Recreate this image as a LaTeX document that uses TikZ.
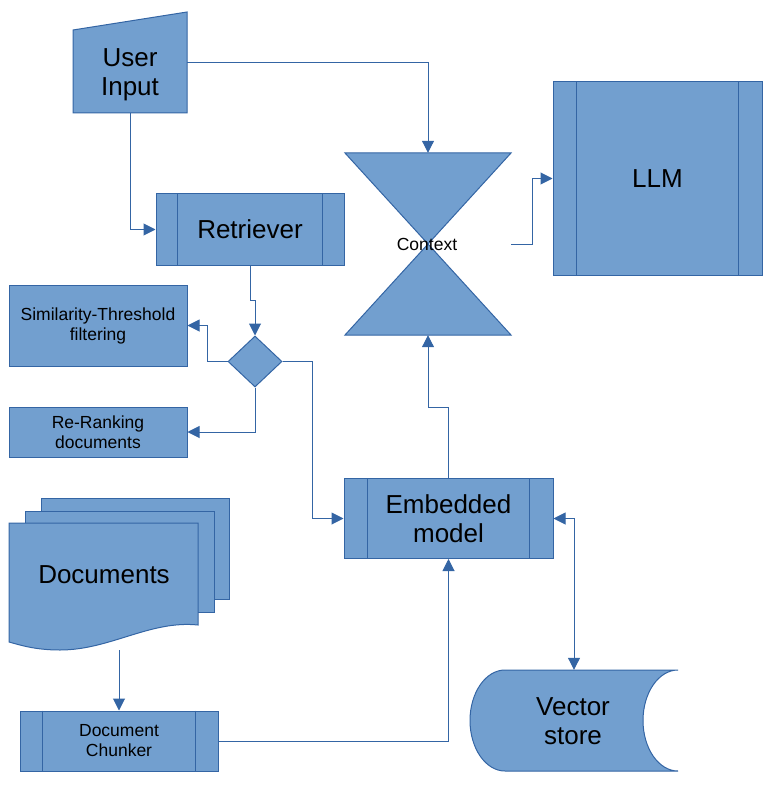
\documentclass[tikz,border=0pt]{standalone}
\usepackage{fontspec}
\setmainfont{Liberation Sans}
\usetikzlibrary{arrows.meta,shapes.geometric}
\definecolor{fillc}{HTML}{729FCF}
\definecolor{linec}{HTML}{3465A4}
\begin{document}
\begin{tikzpicture}[x=1pt,y=-1pt,
  shp/.style={draw=linec, fill=fillc, line width=1pt, line join=miter},
  bigtxt/.style={font=\fontsize{26}{29}\selectfont, align=center, text=black},
  smalltxt/.style={font=\fontsize{17.5}{20}\selectfont, align=center, text=black},
  boxnode/.style={shp, rectangle, inner sep=0pt},
  ghost/.style={rectangle, inner sep=0pt},
  bar/.style={draw=linec, line width=1pt},
  conn/.style={draw=linec, line width=1pt, -{Triangle[length=12pt,width=12pt]}},
  dconn/.style={draw=linec, line width=1pt, {Triangle[length=12pt,width=12pt]}-{Triangle[length=12pt,width=12pt]}}
]
\useasboundingbox (0,0) rectangle (777,794);

% User Input (manual input)
\path[shp] (73,30) -- (187,12) -- (187,113) -- (73,113) -- cycle;
\node[ghost, minimum width=114pt, minimum height=101pt] (ui) at (130,62.5) {};
\node[bigtxt] (uitxt) at (130,74.5) {User\\Input};

% Retriever
\node[boxnode, bigtxt, minimum width=188pt, minimum height=71pt] (ret) at (250,229.5) {Retriever};
\draw[bar] ([xshift=22pt]ret.north west) -- ([xshift=22pt]ret.south west);
\draw[bar] ([xshift=-22pt]ret.north east) -- ([xshift=-22pt]ret.south east);

% Context (hourglass)
\path[shp] (345,153) -- (511,153) -- (428,244) -- cycle;
\path[shp] (345,335) -- (511,335) -- (428,244) -- cycle;
\node[ghost, minimum width=166pt, minimum height=182pt] (ctx) at (428,244) {};
\node[smalltxt] (ctxtxt) at (427,244) {Context};

% LLM
\node[boxnode, bigtxt, minimum width=209pt, minimum height=193pt] (llm) at (657.5,178.5) {LLM};
\draw[bar] ([xshift=24pt]llm.north west) -- ([xshift=24pt]llm.south west);
\draw[bar] ([xshift=-24pt]llm.north east) -- ([xshift=-24pt]llm.south east);

% Decision diamond
\node[shp, diamond, inner sep=0pt, minimum width=54pt, minimum height=51pt] (dia) at (255,361.5) {};

% Similarity-Threshold filtering
\node[boxnode, smalltxt, minimum width=178pt, minimum height=81pt] (sim) at (98,325.5) {Similarity-Threshold\\filtering};

% Re-Ranking documents
\node[boxnode, smalltxt, minimum width=178pt, minimum height=50pt] (rr) at (98,432) {Re-Ranking\\documents};

% Embedded model
\node[boxnode, bigtxt, minimum width=209pt, minimum height=80pt] (emb) at (448.5,518.5) {Embedded\\model};
\draw[bar] ([xshift=24pt]emb.north west) -- ([xshift=24pt]emb.south west);
\draw[bar] ([xshift=-24pt]emb.north east) -- ([xshift=-24pt]emb.south east);

% Documents (multi-document)
\path[shp] (41,498) rectangle (229,599);
\path[shp] (25,511) rectangle (214,612);
\path[shp] (9,523) -- (198,523) -- (198,625)
  .. controls (150,620) and (110,650) .. (60,650)
  .. controls (35,650) and (20,645) .. (9,642) -- cycle;
\node[ghost, minimum width=189pt, minimum height=127pt] (docs) at (103.5,586.5) {};
\node[bigtxt] (docstxt) at (104,575) {Documents};

% Document Chunker
\node[boxnode, smalltxt, minimum width=198pt, minimum height=60pt] (chk) at (119,741) {Document\\Chunker};
\draw[bar] ([xshift=23pt]chk.north west) -- ([xshift=23pt]chk.south west);
\draw[bar] ([xshift=-23pt]chk.north east) -- ([xshift=-23pt]chk.south east);

% Vector store
\path[shp] (505,670) -- (678,670)
  arc[start angle=270, end angle=90, x radius=35, y radius=50.5]
  -- (505,771)
  arc[start angle=90, end angle=270, x radius=35, y radius=50.5] -- cycle;
\node[ghost, minimum width=208pt, minimum height=101pt] (vs) at (574,720.5) {};
\node[bigtxt] (vstxt) at (573,721) {Vector\\store};

% Connectors
\draw[conn] (ui.east) -| (ctx.north);
\draw[conn] (ui.south) |- (ret.west);
\draw[conn] (ctx.east) -- ++(21,0) |- (llm.west);
\draw[conn] (ret.south) -- ++(0,35) -| (dia.north);
\draw[conn] (dia.west) -- ++(-20,0) |- (sim.east);
\draw[conn] (dia.south) |- (rr.east);
\draw[conn] (dia.east) -- ++(30,0) |- (emb.west);
\draw[conn] (emb.north) -- ++(0,-71) -| (ctx.south);
\draw[dconn] (emb.east) -| (vs.north);
\draw[conn] (docs.south -| chk.north) -- (chk.north);
\draw[conn] (chk.east) -| (emb.south);
\end{tikzpicture}
\end{document}
